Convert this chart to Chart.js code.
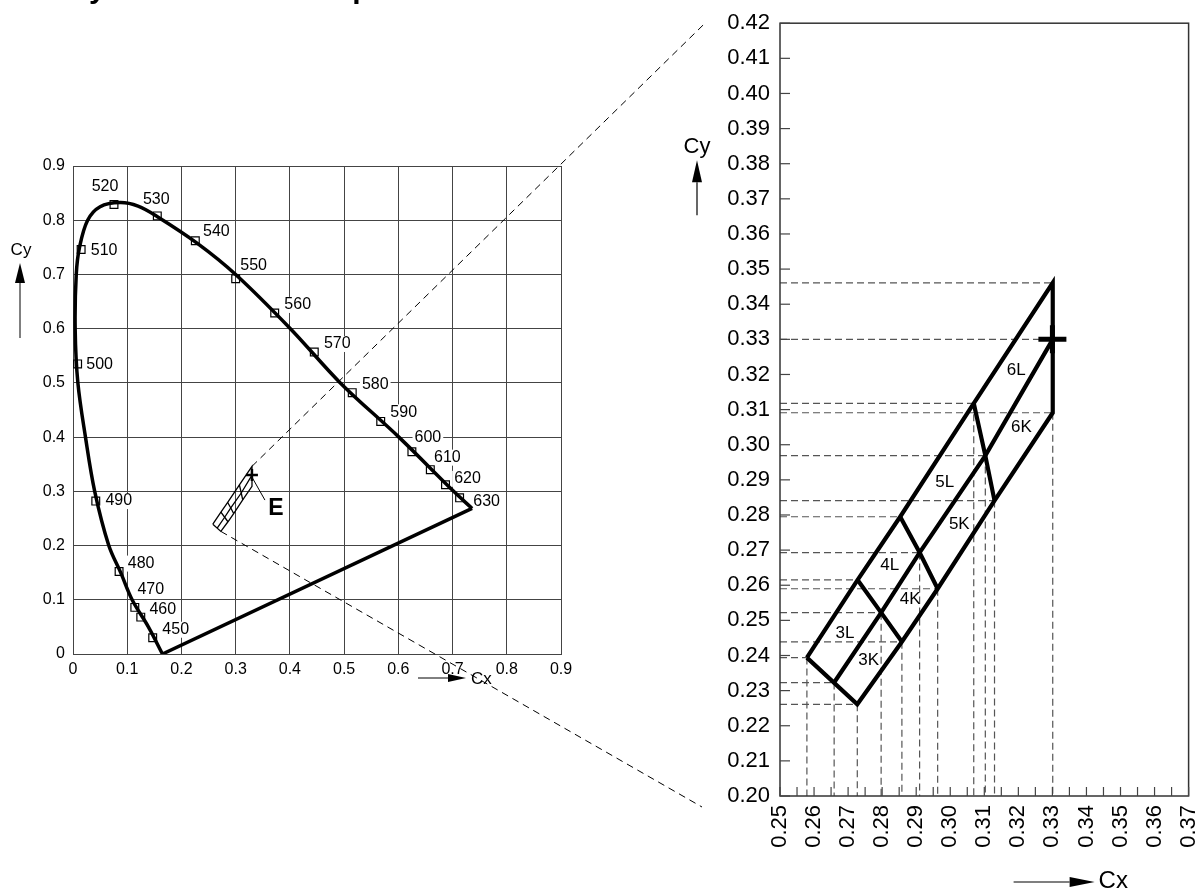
<!DOCTYPE html>
<html lang="en">
<head>
<meta charset="UTF-8">
<title>Chromaticity Coordinate Groups</title>
<script src="https://cdn.jsdelivr.net/npm/chart.js"></script>
<style>
  html, body { margin: 0; padding: 0; background: #fff; }
  body { width: 1198px; height: 889px; position: relative; overflow: hidden; }
  canvas { position: absolute; }
  #cie { left: 0; top: 0; }
  #zoom { left: 620px; top: 0; }
  #overlay { left: 0; top: 0; pointer-events: none; }
</style>
</head>
<body>
<canvas id="cie" width="600" height="700"></canvas>
<canvas id="zoom" width="604" height="889"></canvas>
<canvas id="overlay" width="1198" height="889"></canvas>
<script>
// spectral locus (from the violet end round to the red end)
const locusCx = [0.165, 0.139, 0.109, 0.088, 0.066, 0.040, 0.023, 0.009, 0.004, 0.006, 0.012, 0.027, 0.050, 0.087, 0.120, 0.155, 0.230, 0.300, 0.401, 0.493, 0.601, 0.702, 0.736];
const locusCy = [0.000, 0.050, 0.100, 0.150, 0.200, 0.300, 0.400, 0.500, 0.600, 0.700, 0.750, 0.800, 0.825, 0.8325, 0.826, 0.807, 0.757, 0.700, 0.600, 0.500, 0.400, 0.300, 0.2685];

// wavelength marks on the locus (nm)
const waveNm = [450, 460, 470, 480, 490, 500, 510, 520, 530, 540, 550, 560, 570, 580, 590, 600, 610, 620, 630];
const waveCx = [0.147, 0.125, 0.114, 0.085, 0.042, 0.0085, 0.015, 0.0756, 0.1555, 0.2256, 0.300, 0.372, 0.445, 0.515, 0.5675, 0.625, 0.659, 0.687, 0.713];
const waveCy = [0.030, 0.068, 0.086, 0.152, 0.282, 0.535, 0.746, 0.829, 0.808, 0.762, 0.692, 0.629, 0.557, 0.482, 0.429, 0.373, 0.340, 0.312, 0.288];

// chromaticity groups: corners along the L edge, the centre line and the K edge
const groups = ['3', '4', '5', '6'];
const edgeLCx = [0.2579, 0.2728, 0.2853, 0.3069, 0.3301];
const edgeLCy = [0.2394, 0.2615, 0.2795, 0.3118, 0.3461];
const centreCx = [0.2659, 0.2797, 0.2910, 0.3103, 0.3301];
const centreCy = [0.2323, 0.2522, 0.2693, 0.2969, 0.3300];
const edgeKCx = [0.2727, 0.2858, 0.2963, 0.3130, 0.3301];
const edgeKCy = [0.2261, 0.2439, 0.2590, 0.2841, 0.3091];
const pointECx = 0.330;
const pointECy = 0.330;

// tick labels
const cieTicks = [0, 0.1, 0.2, 0.3, 0.4, 0.5, 0.6, 0.7, 0.8, 0.9];
const zoomTicksX = [0.25, 0.26, 0.27, 0.28, 0.29, 0.30, 0.31, 0.32, 0.33, 0.34, 0.35, 0.36, 0.37];
const zoomTicksY = [0.20, 0.21, 0.22, 0.23, 0.24, 0.25, 0.26, 0.27, 0.28, 0.29, 0.30, 0.31, 0.32, 0.33, 0.34, 0.35, 0.36, 0.37, 0.38, 0.39, 0.40, 0.41, 0.42];

// label offsets of the wavelength numbers from their marks (px)
const waveLabelDx = [23, 22, 16, 22, 23, 22, 23, -9, -1, 21, 18, 23, 23, 23, 23, 16, 17, 22, 27];
const waveLabelDy = [-8, -8, -18, -8, 0, 1, 1, -18, -16, -9, -13, -8, -8, -8, -9, -14, -12, -6, 4];

const FONT = '"Liberation Sans", Arial, sans-serif';
Chart.defaults.font.family = FONT;
Chart.defaults.color = '#000';

const pts = (xs, ys) => xs.map((x, i) => ({ x: x, y: ys[i] }));

// outline, centre line and the cross lines between the groups
function groupLines(width) {
  const outline = pts(edgeLCx, edgeLCy).concat(pts(edgeKCx, edgeKCy).reverse());
  outline.push(outline[0]);
  const sets = [{ data: outline }, { data: pts(centreCx, centreCy) }];
  for (let i = 1; i < 4; i++) {
    sets.push({ data: [
      { x: edgeLCx[i], y: edgeLCy[i] },
      { x: centreCx[i], y: centreCy[i] },
      { x: edgeKCx[i], y: edgeKCy[i] }
    ] });
  }
  return sets.map(s => Object.assign(s, {
    showLine: true, borderColor: '#000', borderWidth: width, pointRadius: 0,
    borderJoinStyle: 'miter', tension: 0, fill: false
  }));
}

function arrow(ctx, x1, y1, x2, y2, len, half) {
  const a = Math.atan2(y2 - y1, x2 - x1);
  ctx.beginPath();
  ctx.moveTo(x1, y1);
  ctx.lineTo(x2 - Math.cos(a) * len, y2 - Math.sin(a) * len);
  ctx.stroke();
  ctx.beginPath();
  ctx.moveTo(x2, y2);
  ctx.lineTo(x2 - Math.cos(a) * len - Math.sin(a) * half, y2 - Math.sin(a) * len + Math.cos(a) * half);
  ctx.lineTo(x2 - Math.cos(a) * len + Math.sin(a) * half, y2 - Math.sin(a) * len - Math.cos(a) * half);
  ctx.closePath();
  ctx.fill();
}

// ---------- left chart: CIE diagram ----------
const ciePlugin = {
  id: 'ciePlugin',
  beforeDatasetsDraw(chart) {
    const { ctx, scales: { x, y } } = chart;
    ctx.save();
    ctx.font = '16px ' + FONT;
    ctx.textAlign = 'center';
    ctx.textBaseline = 'middle';
    waveNm.forEach((nm, i) => {
      const px = x.getPixelForValue(waveCx[i]) + waveLabelDx[i];
      const py = y.getPixelForValue(waveCy[i]) + waveLabelDy[i];
      const w = ctx.measureText(String(nm)).width;
      ctx.fillStyle = '#fff';
      ctx.fillRect(px - w / 2 - 2, py - 8, w + 4, 16);
      ctx.fillStyle = '#000';
      ctx.fillText(String(nm), px, py);
    });
    ctx.restore();
  },
  afterDatasetsDraw(chart) {
    const { ctx, scales: { x, y } } = chart;
    const ex = x.getPixelForValue(pointECx), ey = y.getPixelForValue(pointECy);
    ctx.save();
    ctx.strokeStyle = '#000';
    ctx.lineWidth = 1;
    ctx.beginPath();
    ctx.moveTo(ex, ey + 2);
    ctx.lineTo(ex + 13, ey + 25);
    ctx.stroke();
    ctx.font = 'bold 23px ' + FONT;
    ctx.fillStyle = '#000';
    ctx.textAlign = 'center';
    ctx.textBaseline = 'middle';
    ctx.fillText('E', ex + 24, ey + 34);
    ctx.restore();
  },
  afterDraw(chart) {
    const { ctx, chartArea: a } = chart;
    ctx.save();
    ctx.fillStyle = '#000';
    ctx.strokeStyle = '#000';
    ctx.lineWidth = 1;
    ctx.font = '17px ' + FONT;
    ctx.textAlign = 'center';
    ctx.textBaseline = 'middle';
    ctx.fillText('Cy', a.left - 52, a.top + 84);
    arrow(ctx, a.left - 53, a.top + 172, a.left - 53, a.top + 97, 20, 5);
    ctx.textAlign = 'left';
    ctx.fillText('Cx', a.left + 398, a.bottom + 25);
    arrow(ctx, a.left + 345, a.bottom + 24, a.left + 393, a.bottom + 24, 18, 4);
    ctx.restore();
  }
};

const cieChart = new Chart(document.getElementById('cie'), {
  type: 'scatter',
  data: {
    datasets: [
      {
        data: pts(waveCx, waveCy), pointStyle: 'rect', pointRadius: 5.5,
        borderColor: '#000', borderWidth: 1.2, backgroundColor: 'rgba(0,0,0,0)', showLine: false
      },
      {
        data: [{ x: pointECx, y: pointECy }], pointStyle: 'cross', pointRadius: 6,
        borderColor: '#000', borderWidth: 2.5, showLine: false
      },
      ...groupLines(1.3),
      {
        data: pts(locusCx, locusCy), showLine: true, tension: 0.35,
        borderColor: '#000', borderWidth: 3.5, pointRadius: 0, fill: false
      },
      {
        data: [{ x: locusCx[locusCx.length - 1], y: locusCy[locusCy.length - 1] }, { x: locusCx[0], y: locusCy[0] }],
        showLine: true, tension: 0, borderColor: '#000', borderWidth: 3.5, pointRadius: 0
      }
    ]
  },
  options: {
    responsive: false,
    animation: false,
    events: [],
    layout: { padding: { top: 166, right: 39, bottom: 20, left: 0 } },
    plugins: { legend: { display: false }, tooltip: { enabled: false } },
    scales: {
      x: {
        min: 0, max: 0.9,
        afterBuildTicks: s => { s.ticks = cieTicks.map(v => ({ value: v })); },
        afterFit: s => { s.height = 26; },
        grid: { color: '#444', lineWidth: 1, drawTicks: false },
        border: { color: '#444' },
        ticks: { padding: 6, font: { size: 16 }, maxRotation: 0, autoSkip: false,
                 callback: v => v === 0 ? '0' : Number(v).toFixed(1) }
      },
      y: {
        min: 0, max: 0.9,
        afterBuildTicks: s => { s.ticks = cieTicks.map(v => ({ value: v })); },
        afterFit: s => { s.width = 73; },
        grid: { color: '#444', lineWidth: 1, drawTicks: false },
        border: { color: '#444' },
        ticks: { padding: 8, font: { size: 16 }, autoSkip: false,
                 callback: v => v === 0 ? '0' : Number(v).toFixed(1) }
      }
    }
  },
  plugins: [ciePlugin]
});

// ---------- right chart: enlarged groups ----------
function allCorners() {
  const c = [];
  for (let i = 0; i < 5; i++) {
    c.push({ x: edgeLCx[i], y: edgeLCy[i] });
    c.push({ x: centreCx[i], y: centreCy[i] });
    c.push({ x: edgeKCx[i], y: edgeKCy[i] });
  }
  return c;
}

const zoomPlugin = {
  id: 'zoomPlugin',
  beforeDatasetsDraw(chart) {
    const { ctx, chartArea: a, scales: { x, y } } = chart;
    const corners = allCorners();
    ctx.save();
    ctx.setLineDash([7, 4]);
    ctx.strokeStyle = '#555';
    ctx.lineWidth = 1.2;
    corners.forEach(c => {
      const px = x.getPixelForValue(c.x), py = y.getPixelForValue(c.y);
      ctx.beginPath();
      ctx.moveTo(a.left, py);
      ctx.lineTo(px, py);
      ctx.stroke();
      // drop a vertical only from the lowest corner at this Cx
      const below = corners.some(o => o !== c && Math.abs(o.x - c.x) < 0.001 && o.y < c.y);
      if (!below) {
        ctx.beginPath();
        ctx.moveTo(px, py);
        ctx.lineTo(px, a.bottom);
        ctx.stroke();
      }
    });
    ctx.restore();
  },
  afterDatasetsDraw(chart) {
    const { ctx, chartArea: a, scales: { x, y } } = chart;
    ctx.save();
    // frame
    ctx.strokeStyle = '#333';
    ctx.lineWidth = 1.5;
    ctx.strokeRect(a.left, a.top, a.right - a.left, a.bottom - a.top);
    // inward ticks
    ctx.strokeStyle = '#444';
    ctx.lineWidth = 1.2;
    zoomTicksY.forEach(v => {
      const py = y.getPixelForValue(v);
      ctx.beginPath(); ctx.moveTo(a.left, py); ctx.lineTo(a.left + 10, py); ctx.stroke();
    });
    zoomTicksX.forEach((v, i) => {
      const marks = [v];
      if (i < zoomTicksX.length - 1) marks.push((v + zoomTicksX[i + 1]) / 2);
      marks.forEach(m => {
        const px = x.getPixelForValue(m);
        ctx.beginPath(); ctx.moveTo(px, a.bottom); ctx.lineTo(px, a.bottom - 9); ctx.stroke();
      });
    });
    // group names at the middle of each cell
    ctx.font = '17px ' + FONT;
    ctx.fillStyle = '#000';
    ctx.textAlign = 'center';
    ctx.textBaseline = 'middle';
    groups.forEach((g, i) => {
      const lx = (edgeLCx[i] + edgeLCx[i + 1] + centreCx[i] + centreCx[i + 1]) / 4;
      const ly = (edgeLCy[i] + edgeLCy[i + 1] + centreCy[i] + centreCy[i + 1]) / 4;
      const kx = (edgeKCx[i] + edgeKCx[i + 1] + centreCx[i] + centreCx[i + 1]) / 4;
      const ky = (edgeKCy[i] + edgeKCy[i + 1] + centreCy[i] + centreCy[i + 1]) / 4;
      ctx.fillText(g + 'L', x.getPixelForValue(lx), y.getPixelForValue(ly));
      ctx.fillText(g + 'K', x.getPixelForValue(kx), y.getPixelForValue(ky));
    });
    ctx.restore();
  },
  afterDraw(chart) {
    const { ctx, chartArea: a } = chart;
    ctx.save();
    ctx.fillStyle = '#000';
    ctx.strokeStyle = '#000';
    ctx.lineWidth = 1.2;
    ctx.font = '22px ' + FONT;
    ctx.textAlign = 'center';
    ctx.textBaseline = 'middle';
    ctx.fillText('Cy', a.left - 83, a.top + 124);
    arrow(ctx, a.left - 83, a.top + 192, a.left - 83, a.top + 137, 22, 5);
    ctx.font = '24px ' + FONT;
    ctx.textAlign = 'left';
    ctx.fillText('Cx', a.right - 90, a.bottom + 85);
    arrow(ctx, a.right - 175, a.bottom + 86, a.right - 94, a.bottom + 86, 25, 5);
    ctx.restore();
  }
};

const zoomChart = new Chart(document.getElementById('zoom'), {
  type: 'scatter',
  data: {
    datasets: [
      {
        data: [{ x: pointECx, y: pointECy }], pointStyle: 'cross', pointRadius: 14,
        borderColor: '#000', borderWidth: 5, showLine: false
      },
      ...groupLines(4.2)
    ]
  },
  options: {
    responsive: false,
    animation: false,
    events: [],
    layout: { padding: { top: 23, right: 10, bottom: 33, left: 0 } },
    plugins: { legend: { display: false }, tooltip: { enabled: false } },
    scales: {
      x: {
        min: 0.25, max: 0.37,
        afterBuildTicks: s => { s.ticks = zoomTicksX.map(v => ({ value: v })); },
        afterFit: s => { s.height = 60; },
        grid: { display: false, drawTicks: false },
        border: { display: false },
        ticks: { padding: 9, font: { size: 22 }, minRotation: 90, maxRotation: 90, autoSkip: false,
                 callback: v => Number(v).toFixed(2) }
      },
      y: {
        min: 0.20, max: 0.42,
        afterBuildTicks: s => { s.ticks = zoomTicksY.map(v => ({ value: v })); },
        afterFit: s => { s.width = 160; },
        grid: { display: false, drawTicks: false },
        border: { display: false },
        ticks: { padding: 10, font: { size: 22 }, autoSkip: false,
                 callback: v => Number(v).toFixed(2) }
      }
    }
  },
  plugins: [zoomPlugin]
});

// ---------- overlay: dashed connectors and the clipped heading ----------
(function drawOverlay() {
  const ctx = document.getElementById('overlay').getContext('2d');
  const zoomLeft = 620;
  const cx = cieChart.scales.x, cy = cieChart.scales.y;
  const za = zoomChart.chartArea;
  ctx.save();
  ctx.strokeStyle = '#000';
  ctx.lineWidth = 1;
  ctx.setLineDash([7, 5]);
  ctx.beginPath();
  ctx.moveTo(cx.getPixelForValue(edgeLCx[4]), cy.getPixelForValue(edgeLCy[4]));
  ctx.lineTo(zoomLeft + za.left - 75, za.top);
  ctx.stroke();
  ctx.beginPath();
  ctx.moveTo(cx.getPixelForValue(edgeKCx[0]), cy.getPixelForValue(edgeKCy[0]));
  ctx.lineTo(zoomLeft + za.left - 78, za.bottom + 11);
  ctx.stroke();
  ctx.restore();

  ctx.save();
  ctx.font = 'bold 30px ' + FONT;
  ctx.fillStyle = '#000';
  ctx.textBaseline = 'alphabetic';
  const title = 'Chromaticity Coordinate Groups';
  const start = 92 - ctx.measureText('Chromaticit').width - 3;
  ctx.fillText(title, start, -2);
  ctx.restore();
})();
</script>
</body>
</html>
